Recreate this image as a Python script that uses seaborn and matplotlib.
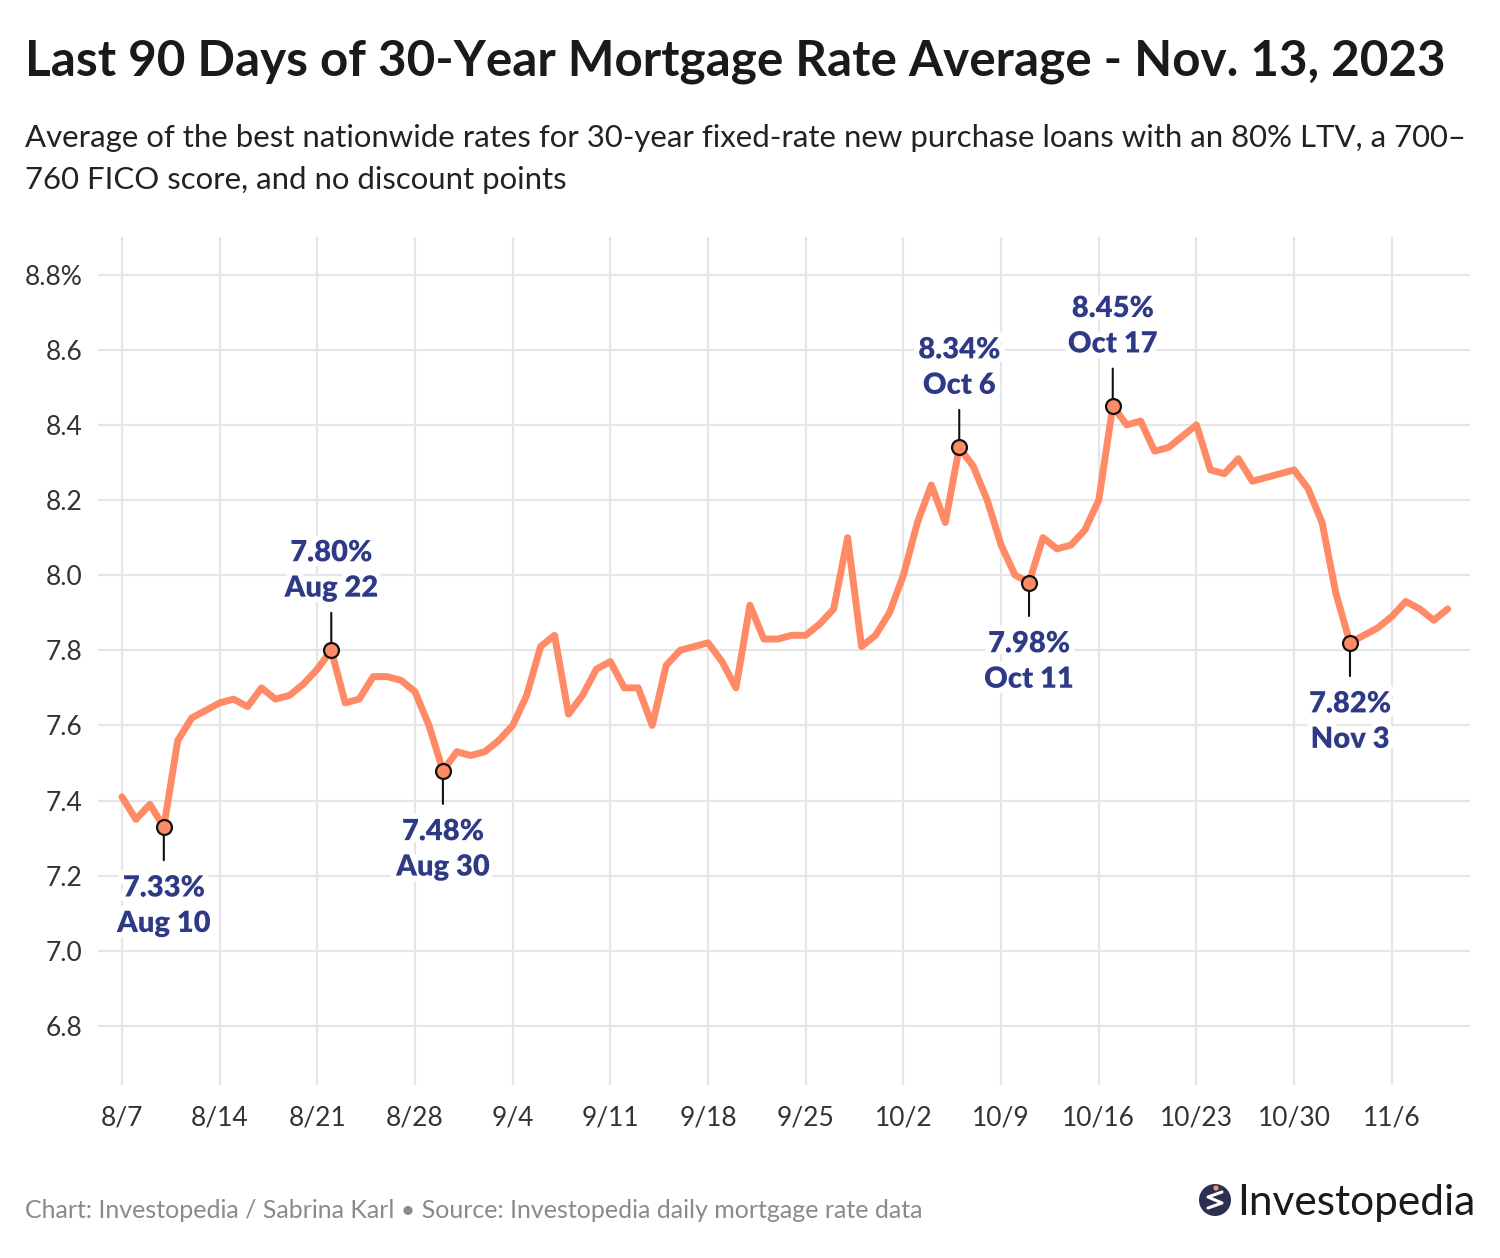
import pandas as pd
import matplotlib
matplotlib.use("Agg")
import matplotlib.pyplot as plt
import matplotlib.patheffects as pe
from matplotlib.patches import Circle
from matplotlib.ticker import FuncFormatter
import seaborn as sns

# ── Data ───────────────────────────────────────────────────────────────────
start = "2023-08-07"
rates = [
    7.41, 7.35, 7.39, 7.33, 7.56, 7.62, 7.64, 7.66, 7.67, 7.65,
    7.70, 7.67, 7.68, 7.71, 7.75, 7.80, 7.66, 7.67, 7.73, 7.73,
    7.72, 7.69, 7.60, 7.48, 7.53, 7.52, 7.53, 7.56, 7.60, 7.68,
    7.81, 7.84, 7.63, 7.68, 7.75, 7.77, 7.70, 7.70, 7.60, 7.76,
    7.80, 7.81, 7.82, 7.77, 7.70, 7.92, 7.83, 7.83, 7.84, 7.84,
    7.87, 7.91, 8.10, 7.81, 7.84, 7.90, 8.00, 8.14, 8.24, 8.14,
    8.34, 8.29, 8.20, 8.08, 8.00, 7.98, 8.10, 8.07, 8.08, 8.12,
    8.20, 8.45, 8.40, 8.41, 8.33, 8.34, 8.37, 8.40, 8.28, 8.27,
    8.31, 8.25, 8.26, 8.27, 8.28, 8.23, 8.14, 7.95, 7.82, 7.84,
    7.86, 7.89, 7.93, 7.91, 7.88, 7.91,
]
dates = pd.date_range(start, periods=len(rates), freq="D")
tick_dates = pd.date_range(start, "2023-11-06", freq="7D")
y_ticks = [6.8, 7.0, 7.2, 7.4, 7.6, 7.8, 8.0, 8.2, 8.4, 8.6, 8.8]

callout_dates = ["2023-08-10", "2023-08-22", "2023-08-30", "2023-10-06",
                 "2023-10-11", "2023-10-17", "2023-11-03"]
callout_above = [False, True, False, True, False, True, False]

TITLE = "Last 90 Days of 30-Year Mortgage Rate Average - Nov. 13, 2023"
SUBTITLE = ["Average of the best nationwide rates for 30-year fixed-rate new purchase "
            "loans with an 80% LTV, a 700\u2013",
            "760 FICO score, and no discount points"]
FOOTER = "Chart: Investopedia / Sabrina Karl \u2022 Source: Investopedia daily mortgage rate data"

LINE = "#FF8A66"
NAVY = "#2E3A86"
GRID = "#E6E6E6"

sns.set_theme(style="whitegrid")
plt.rcParams["font.family"] = ["Lato", "DejaVu Sans"]

df = pd.DataFrame({"date": dates, "rate": rates})
s = df.set_index("date")["rate"]

fig = plt.figure(figsize=(15, 12.58), dpi=100)
fig.patch.set_facecolor("white")
ax = fig.add_axes([0.0653, 0.1375, 0.9147, 0.6741])

sns.lineplot(data=df, x="date", y="rate", color=LINE, linewidth=5,
             solid_joinstyle="round", solid_capstyle="round", ax=ax, zorder=3)

t0 = pd.Timestamp(start)
ax.set_xlim(t0 - pd.Timedelta(days=1.72), t0 + pd.Timedelta(days=96.6))
ax.set_ylim(6.643, 8.90)
ax.set_xticks(tick_dates)
ax.xaxis.set_major_formatter(FuncFormatter(
    lambda v, _: f"{matplotlib.dates.num2date(v).month}/{matplotlib.dates.num2date(v).day}"))
ax.set_yticks(y_ticks)
ax.set_yticklabels([f"{v:.1f}%" if v == max(y_ticks) else f"{v:.1f}" for v in y_ticks])
ax.set_xlabel("")
ax.set_ylabel("")
ax.grid(True, color=GRID, linewidth=1.6)
for sp in ax.spines.values():
    sp.set_visible(False)
ax.tick_params(axis="both", length=0, labelsize=19, labelcolor="#333333")
ax.tick_params(axis="x", pad=15)
ax.tick_params(axis="y", pad=11)
ax.set_facecolor("white")

# ── Call-outs ──────────────────────────────────────────────────────────────
halo = [pe.withStroke(linewidth=8, foreground="white")]
for d, up in zip(callout_dates, callout_above):
    d = pd.Timestamp(d)
    v = s[d]
    sign = 1 if up else -1
    ax.annotate("", xy=(d, v), xytext=(0, sign * (27 if up else 24)),
                textcoords="offset points",
                arrowprops=dict(arrowstyle="-", color="#111111", lw=1.5,
                                shrinkA=0, shrinkB=5), zorder=4)
    ax.scatter([d], [v], s=115, facecolor=LINE, edgecolor="#111111",
               linewidth=1.6, zorder=5)
    ax.annotate(f"{v:.2f}%\n{d:%b} {d.day}", xy=(d, v),
                xytext=(0, 35 if up else -35),
                textcoords="offset points", ha="center",
                va="bottom" if up else "top", fontsize=21, fontweight="heavy",
                color=NAVY, linespacing=1.45, path_effects=halo, zorder=6)

# ── Titles / footer ────────────────────────────────────────────────────────
H = 1258
title = fig.text(25 / 1500, 1 - 62 / H, TITLE, fontsize=33, fontweight="bold",
                 color="#1A1A1A", va="center", ha="left")
sub1 = fig.text(25 / 1500, 1 - 138 / H, SUBTITLE[0], fontsize=18, color="#222222",
                va="center", ha="left")
sub2 = fig.text(25 / 1500, 1 - 180 / H, SUBTITLE[1], fontsize=18, color="#222222",
                va="center", ha="left")
foot = fig.text(25 / 1500, 1 - 1211 / H, FOOTER, fontsize=14.5, color="#8A8A8A",
                va="center", ha="left")
logo = fig.text(1237 / 1500, 1 - 1203 / H, "Investopedia", fontsize=28,
                color="#1A1A1A", va="center", ha="left")
fig.patches.append(Circle((1215, H - 1200), 16, transform=None,
                          facecolor="#2B3050", edgecolor="none"))
fig.lines.append(matplotlib.lines.Line2D([1208, 1222, 1208, 1222],
                                         [H - 1208, H - 1203, H - 1197, H - 1192],
                                         transform=None, color="white", lw=2.2))
fig.patches.append(Circle((1216, H - 1188), 2.6, transform=None,
                          facecolor="#FF8A66", edgecolor="none"))

# fit text widths to the reference
fig.canvas.draw()
r = fig.canvas.get_renderer()
for t, target in [(title, 1423), (foot, 897), (logo, 238), (sub1, 1435)]:
    w = t.get_window_extent(r).width
    t.set_fontsize(t.get_fontsize() * target / w)
sub2.set_fontsize(sub1.get_fontsize())

fig.savefig("out.png", dpi=100, facecolor="white")
